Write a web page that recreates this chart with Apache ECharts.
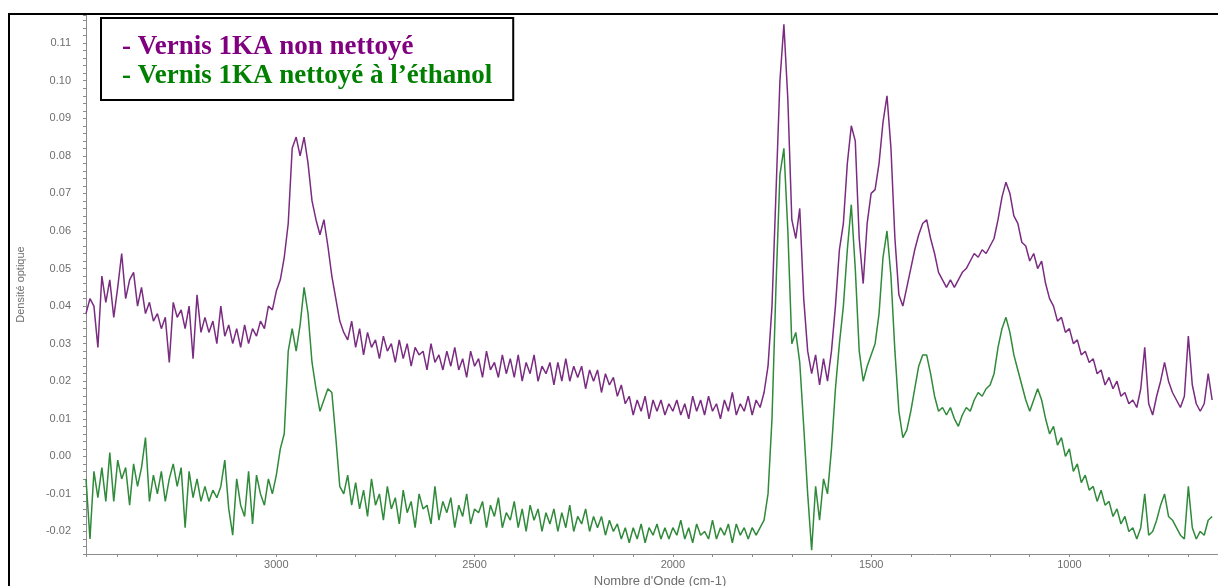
<!DOCTYPE html>
<html>
<head>
<meta charset="utf-8">
<script src="https://cdn.jsdelivr.net/npm/echarts@6/dist/echarts.min.js"></script>
<style>
  html, body { margin: 0; padding: 0; background: #fff; }
  #chart { width: 1218px; height: 586px; }
</style>
</head>
<body>
<div id="chart"></div>
<script>
// Sample names
const NAME_RAW = 'Vernis 1KA non nettoyé';
const NAME_CLEAN = 'Vernis 1KA nettoyé à l\u2019éthanol';

// Spectra are sampled every 10 cm-1, from 3480 cm-1 down to 640 cm-1.
const WN_START = 3480;
const WN_STEP = 10;

// Optical density of the uncleaned varnish
const rawDensity = [
  // 3480 -> 2000
  0.038, 0.042, 0.040, 0.029, 0.048, 0.041, 0.047, 0.037, 0.045, 0.054,
  0.042, 0.047, 0.049, 0.040, 0.045, 0.038, 0.041, 0.036, 0.038, 0.034,
  0.037, 0.025, 0.041, 0.037, 0.039, 0.034, 0.040, 0.026, 0.043, 0.033,
  0.037, 0.033, 0.036, 0.030, 0.040, 0.032, 0.035, 0.030, 0.034, 0.029,
  0.035, 0.030, 0.034, 0.032, 0.036, 0.034, 0.040, 0.039, 0.044, 0.047,
  0.053, 0.062, 0.082, 0.085, 0.080, 0.085, 0.078, 0.068, 0.063, 0.059,
  0.063, 0.056, 0.048, 0.042, 0.036, 0.033, 0.031, 0.036, 0.029, 0.034,
  0.027, 0.033, 0.029, 0.031, 0.026, 0.032, 0.028, 0.030, 0.025, 0.031,
  0.026, 0.030, 0.024, 0.029, 0.027, 0.028, 0.023, 0.030, 0.025, 0.027,
  0.023, 0.028, 0.024, 0.029, 0.023, 0.026, 0.021, 0.028, 0.024, 0.026,
  0.021, 0.028, 0.023, 0.025, 0.021, 0.027, 0.022, 0.026, 0.021, 0.027,
  0.020, 0.025, 0.022, 0.027, 0.020, 0.024, 0.022, 0.025, 0.019, 0.025,
  0.020, 0.026, 0.020, 0.024, 0.021, 0.024, 0.018, 0.023, 0.020, 0.023,
  0.017, 0.022, 0.019, 0.021, 0.016, 0.019, 0.014, 0.016, 0.011, 0.015,
  0.012, 0.016, 0.010, 0.015, 0.012, 0.015, 0.011, 0.014, 0.012,
  // 1990 -> 640
  0.015, 0.011, 0.014, 0.010, 0.016, 0.012, 0.015, 0.011, 0.016, 0.012,
  0.014, 0.010, 0.015, 0.012, 0.017, 0.011, 0.014, 0.012, 0.016, 0.011,
  0.015, 0.013, 0.017, 0.024, 0.040, 0.070, 0.100, 0.115, 0.095, 0.063,
  0.058, 0.066, 0.042, 0.028, 0.022, 0.027, 0.019, 0.026, 0.020, 0.028,
  0.040, 0.055, 0.062, 0.078, 0.088, 0.084, 0.058, 0.046, 0.062, 0.070,
  0.071, 0.078, 0.089, 0.096, 0.082, 0.058, 0.043, 0.040, 0.045, 0.050,
  0.055, 0.059, 0.062, 0.063, 0.058, 0.054, 0.049, 0.047, 0.045, 0.047,
  0.045, 0.047, 0.049, 0.050, 0.052, 0.054, 0.053, 0.055, 0.054, 0.056,
  0.058, 0.063, 0.069, 0.073, 0.070, 0.064, 0.062, 0.057, 0.056, 0.052,
  0.054, 0.050, 0.052, 0.046, 0.042, 0.040, 0.036, 0.037, 0.033, 0.034,
  0.030, 0.031, 0.027, 0.028, 0.025, 0.026, 0.022, 0.023, 0.019, 0.021,
  0.018, 0.020, 0.016, 0.017, 0.014, 0.015, 0.013, 0.018, 0.029, 0.014,
  0.011, 0.016, 0.020, 0.025, 0.020, 0.017, 0.015, 0.013, 0.016, 0.032,
  0.019, 0.014, 0.012, 0.014, 0.022, 0.015
];

// Optical density of the varnish after ethanol cleaning
const cleanDensity = [
  // 3480 -> 2000
  -0.006, -0.022, -0.004, -0.011, -0.003, -0.012, 0.001, -0.012, -0.001, -0.006,
  -0.003, -0.013, -0.002, -0.008, -0.003, 0.005, -0.012, -0.005, -0.010, -0.004,
  -0.012, -0.006, -0.002, -0.008, -0.003, -0.019, -0.004, -0.011, -0.006, -0.012,
  -0.008, -0.012, -0.009, -0.011, -0.008, -0.001, -0.014, -0.021, -0.006, -0.013,
  -0.016, -0.004, -0.018, -0.005, -0.010, -0.013, -0.006, -0.010, -0.005, 0.002,
  0.006, 0.028, 0.034, 0.028, 0.035, 0.045, 0.038, 0.025, 0.018, 0.012,
  0.015, 0.018, 0.017, 0.005, -0.008, -0.010, -0.005, -0.013, -0.007, -0.014,
  -0.009, -0.016, -0.006, -0.013, -0.010, -0.017, -0.008, -0.014, -0.011, -0.018,
  -0.009, -0.015, -0.012, -0.019, -0.010, -0.014, -0.013, -0.018, -0.008, -0.017,
  -0.012, -0.015, -0.011, -0.019, -0.013, -0.016, -0.010, -0.018, -0.014, -0.015,
  -0.012, -0.019, -0.013, -0.016, -0.011, -0.019, -0.015, -0.017, -0.012, -0.019,
  -0.014, -0.020, -0.013, -0.017, -0.014, -0.020, -0.015, -0.018, -0.014, -0.020,
  -0.015, -0.019, -0.013, -0.020, -0.016, -0.018, -0.014, -0.020, -0.016, -0.019,
  -0.016, -0.021, -0.017, -0.020, -0.018, -0.022, -0.019, -0.023, -0.019, -0.022,
  -0.018, -0.023, -0.019, -0.021, -0.018, -0.022, -0.019, -0.022, -0.019,
  // 1990 -> 640
  -0.021, -0.017, -0.022, -0.019, -0.023, -0.018, -0.021, -0.020, -0.022, -0.017,
  -0.022, -0.019, -0.021, -0.018, -0.023, -0.018, -0.021, -0.019, -0.022, -0.019,
  -0.021, -0.019, -0.017, -0.010, 0.010, 0.045, 0.075, 0.082, 0.060, 0.030,
  0.033, 0.025, 0.008, -0.010, -0.025, -0.008, -0.017, -0.006, -0.010, 0.002,
  0.018, 0.030, 0.040, 0.055, 0.067, 0.050, 0.028, 0.020, 0.024, 0.027,
  0.030, 0.038, 0.053, 0.060, 0.048, 0.028, 0.012, 0.005, 0.007, 0.012,
  0.018, 0.024, 0.027, 0.027, 0.022, 0.016, 0.012, 0.013, 0.011, 0.013,
  0.010, 0.008, 0.011, 0.013, 0.012, 0.015, 0.017, 0.016, 0.018, 0.019,
  0.022, 0.029, 0.034, 0.037, 0.033, 0.027, 0.023, 0.019, 0.015, 0.012,
  0.015, 0.018, 0.015, 0.010, 0.006, 0.008, 0.003, 0.005, 0.000, 0.002,
  -0.004, -0.002, -0.007, -0.005, -0.009, -0.008, -0.012, -0.009, -0.013, -0.012,
  -0.016, -0.014, -0.018, -0.016, -0.020, -0.019, -0.022, -0.019, -0.010, -0.021,
  -0.020, -0.017, -0.013, -0.010, -0.016, -0.017, -0.019, -0.021, -0.022, -0.008,
  -0.019, -0.022, -0.020, -0.021, -0.017, -0.016
];

// Axis ranges
const Y_MIN = -0.026;
const Y_MAX = 0.1175;
const Y_STEP = 0.002;
const X_MIN = 600;
const X_MAX = 3480;
const X_STEP = 100;

const COLOR_RAW = '#7a2c80';
const COLOR_CLEAN = '#2f8a3a';

function toPairs(values) {
  return values.map((v, i) => [WN_START - i * WN_STEP, v]);
}

const axisGray = '#8c8c8c';
const SANS = 'Arial, "Liberation Sans", sans-serif';
const labelStyle = { color: '#6e6e6e', fontSize: 11, fontFamily: SANS };

const lineSeries = (name, data, color) => ({
  name, type: 'line', data,
  showSymbol: false, symbol: 'none', smooth: false,
  lineStyle: { color, width: 1.5 }, itemStyle: { color },
  emphasis: { disabled: true }, clip: true
});

const chart = echarts.init(document.getElementById('chart'), null, { renderer: 'canvas' });
chart.setOption({
  animation: false,
  backgroundColor: '#ffffff',
  grid: { left: 86, top: 15, width: 1142, bottom: 32, outerBoundsMode: 'none', containLabel: false },
  xAxis: {
    type: 'value', inverse: true,
    min: X_MIN, max: X_MAX, interval: X_STEP,
    axisLine: { show: true, onZero: false, lineStyle: { color: axisGray, width: 1 } },
    axisTick: { show: true, length: 3, lineStyle: { color: axisGray } },
    splitLine: { show: false },
    axisLabel: {
      ...labelStyle, margin: 5,
      formatter: v => (v % 500 === 0) ? String(v) : ''
    }
  },
  yAxis: {
    type: 'value', min: Y_MIN, max: Y_MAX, interval: Y_STEP,
    name: 'Densité optique',
    nameLocation: 'middle', nameGap: 60,
    nameTextStyle: { color: '#6e6e6e', fontSize: 11, fontFamily: SANS },
    axisLine: { show: true, lineStyle: { color: axisGray, width: 1 } },
    axisTick: { show: true, length: 3, lineStyle: { color: axisGray } },
    splitLine: { show: false },
    axisLabel: {
      ...labelStyle, margin: 15,
      formatter: v => {
        const k = Math.round(v * 100);
        return Math.abs(v * 100 - k) < 1e-6 ? (k / 100).toFixed(2) : '';
      }
    }
  },
  legend: {
    orient: 'vertical', left: 101, top: 18,
    padding: [15, 21, 9, 16], itemGap: 0,
    itemWidth: 0, itemHeight: 0, icon: 'none',
    backgroundColor: '#ffffff', borderColor: '#000', borderWidth: 2,
    selectedMode: false,
    formatter: n => '- ' + n,
    textStyle: { fontFamily: '"Liberation Serif", "Times New Roman", serif', fontWeight: 'bold', fontSize: 27, lineHeight: 29 },
    data: [
      { name: NAME_RAW, textStyle: { color: '#800080' } },
      { name: NAME_CLEAN, textStyle: { color: '#008000' } }
    ]
  },
  graphic: [
    {
      type: 'rect', silent: true, z: 100,
      shape: { x: 9, y: 14, width: 1260, height: 620 },
      style: { fill: 'none', stroke: '#000', lineWidth: 2 }
    },
    {
      type: 'text', silent: true, x: 660, y: 581,
      style: { text: "Nombre d'Onde (cm-1)", fill: '#6e6e6e', fontSize: 13, fontFamily: SANS, align: 'center', verticalAlign: 'middle' }
    }
  ],
  series: [
    lineSeries(NAME_CLEAN, toPairs(cleanDensity), COLOR_CLEAN),
    lineSeries(NAME_RAW, toPairs(rawDensity), COLOR_RAW)
  ]
});
</script>
</body>
</html>
